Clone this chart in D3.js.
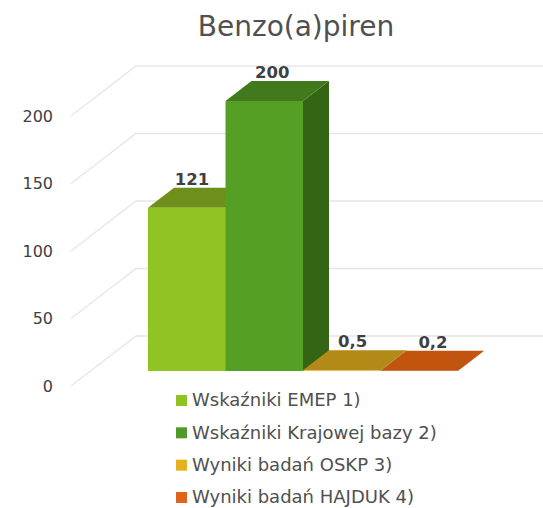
<!DOCTYPE html>
<html>
<head>
<meta charset="utf-8">
<title>Benzo(a)piren</title>
<style>
    html, body { margin: 0; padding: 0; background: #fff; }
    svg { display: block; }
    text { font-family: "DejaVu Sans", Verdana, sans-serif; }
</style>
<script src="https://d3js.org/d3.v7.min.js"></script>
</head>
<body>
<svg></svg>
<script>
const title = "Benzo(a)piren";
const seriesNames = ["Wskaźniki EMEP 1)", "Wskaźniki Krajowej bazy 2)", "Wyniki badań OSKP 3)", "Wyniki badań HAJDUK 4)"];
const seriesValues = [121, 200, 0.5, 0.2];
const valueLabels = ["121", "200", "0,5", "0,2"];
const yTicks = [0, 50, 100, 150, 200];

const legendColors = ["#8fc31f", "#4f9a28", "#e6b11f", "#e0631c"];
const frontColors = ["#90c423", "#559f24", "#e6b11f", "#e0631c"];
const topColors = ["#6e8f1a", "#417a1c", "#b38a17", "#c1550f"];
const sideColors = ["#5f7c16", "#336515", "#8f6e12", "#9a440c"];

const width = 543;
const height = 508;

const svg = d3.select("svg").attr("width", width).attr("height", height);

// front edge of the floor sits at depth 0, back wall at depth 1
const x = d3.scaleBand().domain(seriesNames).range([148, 458]);
const y = d3.scaleLinear().domain([0, 200]).range([386, 116]);
const depthX = d3.scaleLinear().domain([0, 1]).range([0, 65]);
const depthY = d3.scaleLinear().domain([0, 1]).range([0, -50]);
const barFront = 0.3, barBack = 0.7;
const wallX = 136;

// grid: diagonal on the side wall, then flat along the back wall
svg.append("g").selectAll("path")
    .data(yTicks)
    .enter().append("path")
    .attr("d", d => "M" + (wallX - depthX(1)) + "," + y(d)
        + "L" + wallX + "," + (y(d) + depthY(1))
        + "L" + width + "," + (y(d) + depthY(1)))
    .attr("fill", "none")
    .attr("stroke", "#e6e6e6")
    .attr("stroke-width", 1.3);

// tick labels
svg.append("g").selectAll("text")
    .data(yTicks)
    .enter().append("text")
    .attr("x", 53)
    .attr("y", d => y(d))
    .attr("dy", ".35em")
    .attr("text-anchor", "end")
    .attr("font-size", 16)
    .attr("fill", "#404040")
    .text(d => d);

// y scale starts at the front edge; bars stand further back on the floor
const rows = seriesNames.map((name, i) => ({ name, value: seriesValues[i], i }));
const bars = svg.append("g").selectAll("g")
    .data(rows)
    .enter().append("g");

const barBase = () => y(0) + depthY(barFront);
const barTop = d => barBase() - (y(0) - y(d.value));
const skew = (px, py) => [px + depthX(barBack) - depthX(barFront), py + depthY(barBack) - depthY(barFront)];

bars.append("path")
    .attr("d", d => {
        const x1 = x(d.name) + x.bandwidth();
        return "M" + [x1, barTop(d)] + "L" + skew(x1, barTop(d)) + "L" + skew(x1, barBase()) + "L" + [x1, barBase()] + "Z";
    })
    .attr("fill", d => sideColors[d.i]);

bars.append("path")
    .attr("d", d => {
        const x0 = x(d.name), x1 = x0 + x.bandwidth();
        return "M" + [x0, barTop(d)] + "L" + skew(x0, barTop(d)) + "L" + skew(x1, barTop(d)) + "L" + [x1, barTop(d)] + "Z";
    })
    .attr("fill", d => topColors[d.i]);

bars.append("rect")
    .attr("x", d => x(d.name))
    .attr("y", d => barTop(d))
    .attr("width", x.bandwidth())
    .attr("height", d => barBase() - barTop(d))
    .attr("fill", d => frontColors[d.i]);

// value labels
const labelX = d3.scalePoint().domain(seriesNames).range([192, 433]);
svg.append("g").selectAll("text")
    .data(rows)
    .enter().append("text")
    .attr("x", d => labelX(d.name))
    .attr("y", d => skew(0, barTop(d))[1] - 3)
    .attr("text-anchor", "middle")
    .attr("font-size", 16.5)
    .attr("font-weight", "bold")
    .attr("fill", "#404040")
    .text(d => valueLabels[d.i]);

svg.append("text")
    .attr("x", 296)
    .attr("y", 36)
    .attr("text-anchor", "middle")
    .attr("font-size", 28)
    .attr("fill", "#505050")
    .text(title);

// legend
const legendY = d3.scalePoint().domain(seriesNames).range([400, 497]);
const legend = svg.append("g").selectAll("g")
    .data(seriesNames)
    .enter().append("g")
    .attr("transform", d => "translate(176," + legendY(d) + ")");

legend.append("rect")
    .attr("y", -5)
    .attr("width", 11)
    .attr("height", 11)
    .attr("fill", (d, i) => legendColors[i]);

legend.append("text")
    .attr("x", 16)
    .attr("dy", ".35em")
    .attr("font-size", 18)
    .attr("fill", "#505050")
    .text(d => d);
</script>
</body>
</html>
